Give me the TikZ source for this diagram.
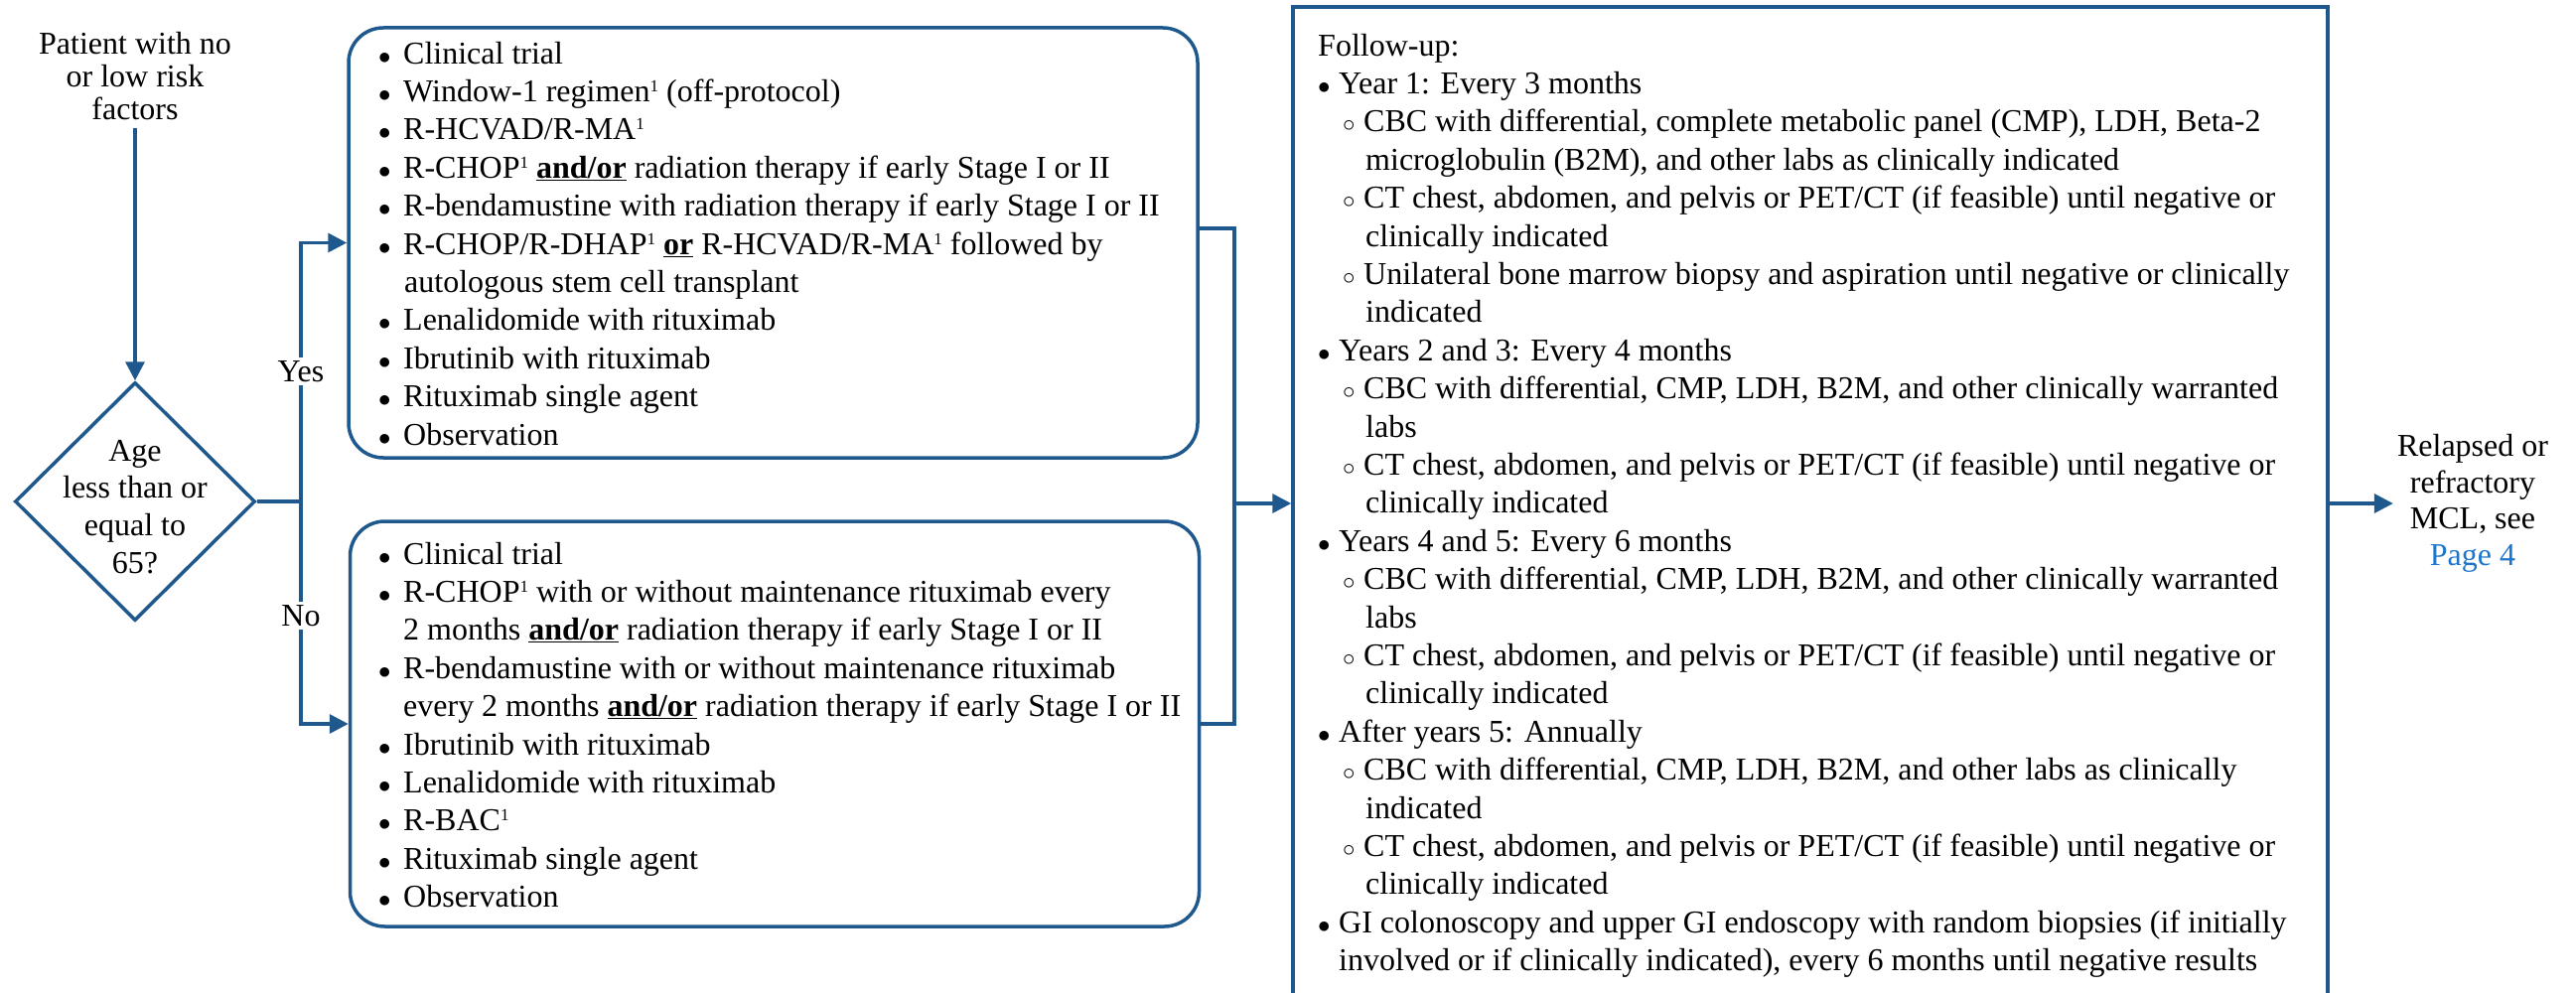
\documentclass[tikz,border=0pt]{standalone}
\usepackage{fontspec}
\setmainfont{Liberation Serif}
\usetikzlibrary{arrows.meta,shapes.geometric,calc}
\definecolor{lblue}{RGB}{31,88,140}
\definecolor{plink}{RGB}{30,118,204}
\newcommand{\tbul}{\makebox[25pt][l]{$\bullet$}}
\newcommand{\fbul}{\makebox[21pt][l]{$\bullet$}}
\newcommand{\fsub}{\hspace*{25pt}\makebox[21pt][l]{$\circ$}}
\newcommand{\fsubc}{\hspace*{48pt}}
\newcommand{\fbulc}{\hspace*{21pt}}
\newcommand{\ulb}[1]{\underline{\textbf{#1}}}
\newcommand{\sone}{\raisebox{10pt}{\fontsize{17}{17}\selectfont 1}}
\begin{document}
\begin{tikzpicture}[x=1pt,y=-1pt,
  ln/.style={draw=lblue, line width=3.5pt},
  arr/.style={ln, -{Triangle[length=19pt,width=19pt]}},
  txt/.style={inner sep=0pt, font=\fontsize{32}{38.4}\selectfont, align=left, anchor=north west},
  ctr/.style={inner sep=0pt, align=center},
  rbox/.style={draw=lblue, line width=3.5pt, rounded corners=35pt, minimum width=855pt, inner sep=0pt},
  lab/.style={fill=white, inner sep=3pt, font=\fontsize{32}{38.4}\selectfont}]
\useasboundingbox (0,0) rectangle (2594,1000);
\fill[white] (0,0) rectangle (2594,1000);

% left part
\node[ctr, inner sep=8pt, font=\fontsize{32}{33}\selectfont] (pat) at (136,77) {Patient with no\\or low risk\\factors};
\node[diamond, draw=lblue, line width=3.5pt, minimum width=242pt, minimum height=240pt, inner sep=0pt] (dec) at (136,505) {};
\node[ctr, font=\fontsize{32}{37.7}\selectfont] (dect) at ($(dec.center)+(0,5.5)$) {Age\\less than or\\equal to\\65?};
\coordinate (br) at (303,505);

% boxes
\node[rbox, minimum height=433pt] (top) at (778.5,244.5) {};
\node[rbox, minimum height=408pt] (bot) at (780,729) {};
\node[draw=lblue, line width=3.5pt, minimum width=1042pt, minimum height=1000pt, inner sep=0pt] (fu) at (1823,507) {};
\coordinate (mj) at (1243,507);

\node[txt] (tt) at (381,37.1) {\strut\tbul Clinical trial\\
\tbul Window-1 regimen\sone{} (off-protocol)\\
\tbul R-HCVAD/R-MA\sone\\
\tbul R-CHOP\sone{} \ulb{and/or} radiation therapy if early Stage I or II\\
\tbul R-bendamustine with radiation therapy if early Stage I or II\\
\tbul R-CHOP/R-DHAP\sone{} \ulb{or} R-HCVAD/R-MA\sone{} followed by\\
\hspace*{26pt}autologous stem cell transplant\\
\tbul Lenalidomide with rituximab\\
\tbul Ibrutinib with rituximab\\
\tbul Rituximab single agent\\
\tbul Observation};

\node[txt] (bt) at (381,541.1) {\strut\tbul Clinical trial\\
\tbul R-CHOP\sone{} with or without maintenance rituximab every\\
\hspace*{25pt}2 months \ulb{and/or} radiation therapy if early Stage I or II\\
\tbul R-bendamustine with or without maintenance rituximab\\
\hspace*{25pt}every 2 months \ulb{and/or} radiation therapy if early Stage I or II\\
\tbul Ibrutinib with rituximab\\
\tbul Lenalidomide with rituximab\\
\tbul R-BAC\sone\\
\tbul Rituximab single agent\\
\tbul Observation};

\node[txt] (ft) at (1327,29.1) {\strut Follow-up:\\
\fbul Year 1: Every 3 months\\
\fsub CBC with differential, complete metabolic panel (CMP), LDH, Beta-2\\
\fsubc microglobulin (B2M), and other labs as clinically indicated\\
\fsub CT chest, abdomen, and pelvis or PET/CT (if feasible) until negative or\\
\fsubc clinically indicated\\
\fsub Unilateral bone marrow biopsy and aspiration until negative or clinically\\
\fsubc indicated\\
\fbul Years 2 and 3: Every 4 months\\
\fsub CBC with differential, CMP, LDH, B2M, and other clinically warranted\\
\fsubc labs\\
\fsub CT chest, abdomen, and pelvis or PET/CT (if feasible) until negative or\\
\fsubc clinically indicated\\
\fbul Years 4 and 5: Every 6 months\\
\fsub CBC with differential, CMP, LDH, B2M, and other clinically warranted\\
\fsubc labs\\
\fsub CT chest, abdomen, and pelvis or PET/CT (if feasible) until negative or\\
\fsubc clinically indicated\\
\fbul After years 5: Annually\\
\fsub CBC with differential, CMP, LDH, B2M, and other labs as clinically\\
\fsubc indicated\\
\fsub CT chest, abdomen, and pelvis or PET/CT (if feasible) until negative or\\
\fsubc clinically indicated\\
\fbul GI colonoscopy and upper GI endoscopy with random biopsies (if initially\\
\fbulc involved or if clinically indicated), every 6 months until negative results};

\node[ctr, inner sep=4pt, font=\fontsize{32}{36.5}\selectfont] (rel) at (2490,507) {Relapsed or\\refractory\\MCL, see\\\textcolor{plink}{Page 4}};

% connectors
\draw[arr] (pat.south) -- (dec.north);
\draw[ln] (dec.east) -- (br);
\draw[arr] (br) |- (top.west);
\draw[arr] (br) |- (bot.west);
\draw[ln] ($(top.east)+(0,-14.5)$) -| (mj);
\draw[ln] (bot.east) -| (mj);
\draw[arr] (mj) -- (fu.west);
\draw[arr] (fu.east) -- (rel.west);

\node[lab] (yes) at (303,374) {Yes};
\node[lab] (no) at (303,620) {No};
\end{tikzpicture}
\end{document}
